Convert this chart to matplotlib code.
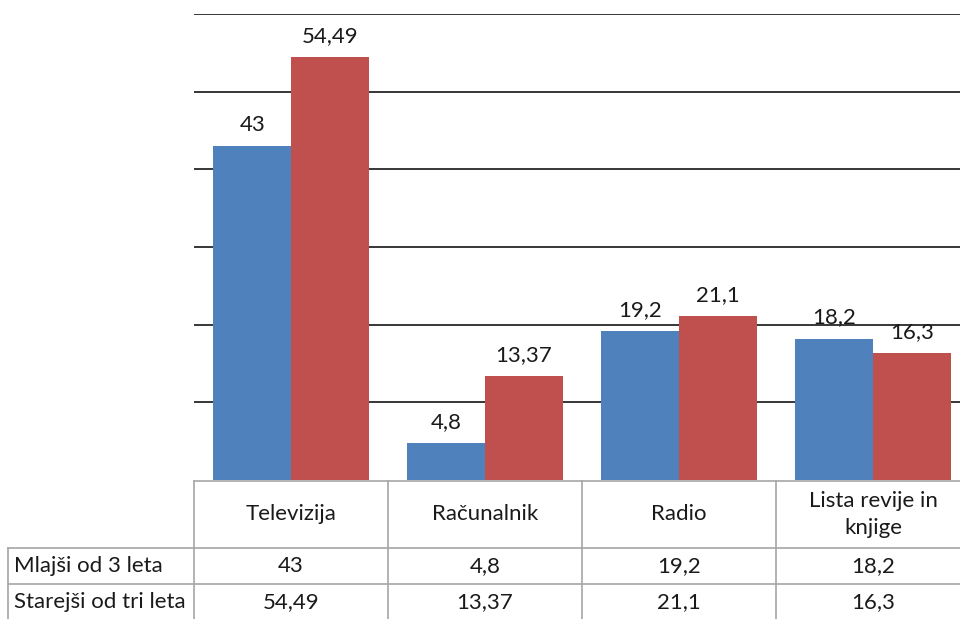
import matplotlib
matplotlib.use("Agg")
import matplotlib.pyplot as plt
from matplotlib.lines import Line2D
import numpy as np

plt.rcParams['font.family'] = ['Lato', 'DejaVu Sans']

categories = ["Televizija", "Računalnik", "Radio", "Lista revije in\nknjige"]
series_names = ["Mlajši od 3 leta", "Starejši od tri leta"]
mlajsi = [43, 4.8, 19.2, 18.2]
starejsi = [54.49, 13.37, 21.1, 16.3]
colors = ["#4F81BD", "#C0504D"]

W, H = 960, 619
fig = plt.figure(figsize=(W / 100, H / 100), dpi=100)


def fx(px):
    return px / W


def fy(py):
    return 1 - py / H


# plot area in pixel coordinates
left, right, top, bottom = 194, 970, 14, 480
ax = fig.add_axes([fx(left), fy(bottom), fx(right - left), fy(top) - fy(bottom)])

x = np.arange(len(categories))
bw = 0.4
values = [mlajsi, starejsi]
fs = 16
for k, (vals, col) in enumerate(zip(values, colors)):
    offs = -bw / 2 if k == 0 else bw / 2
    ax.bar(x + offs, vals, width=bw, color=col, zorder=2)
    for xi, v in zip(x + offs, vals):
        ax.annotate(f"{v:g}".replace('.', ','), (xi, v), xytext=(0, 8),
                    textcoords="offset points", ha="center", va="bottom",
                    fontsize=fs, color="#1a1a1a")

ax.set_xlim(-0.5, len(categories) - 0.5)
ax.set_ylim(0, 60)
ax.set_yticks(np.arange(10, 61, 10))
ax.yaxis.grid(True, color="#262626", linewidth=1.3, zorder=0)
ax.set_axisbelow(True)
ax.tick_params(left=False, bottom=False, labelleft=False, labelbottom=False)
for s in ax.spines.values():
    s.set_visible(False)

# data table below the plot
gray = "#a6a6a6"


def hline(y, x0, x1):
    fig.add_artist(Line2D([fx(x0), fx(x1)], [fy(y), fy(y)], color=gray, lw=1.2))


def vline(xp, y0, y1):
    fig.add_artist(Line2D([fx(xp), fx(xp)], [fy(y0), fy(y1)], color=gray, lw=1.2))


hdr_top, hdr_bot, r1_bot, r2_bot = 481, 548, 584, 625
label_left = 8
cat_w = (right - left) / len(categories)

hline(hdr_top, left, right)
hline(hdr_bot, label_left, right)
hline(r1_bot, label_left, right)
vline(label_left, hdr_bot, r2_bot)
for i in range(len(categories) + 1):
    vline(left + i * cat_w, hdr_top, r2_bot)

row_centers = [(hdr_bot + r1_bot) / 2, (r1_bot + 619) / 2 + 1]
for i, cat in enumerate(categories):
    cx = left + (i + 0.5) * cat_w
    fig.text(fx(cx), fy((hdr_top + hdr_bot) / 2), cat, ha="center", va="center",
             fontsize=fs, color="#1a1a1a", linespacing=1.4)
    for r, vals in enumerate(values):
        fig.text(fx(cx), fy(row_centers[r]), f"{vals[i]:g}".replace('.', ','),
                 ha="center", va="center", fontsize=fs, color="#1a1a1a")

for r, name in enumerate(series_names):
    fig.text(fx(label_left + 6), fy(row_centers[r]), name, ha="left", va="center",
             fontsize=fs, color="#1a1a1a")

fig.savefig("out.png", dpi=100)
